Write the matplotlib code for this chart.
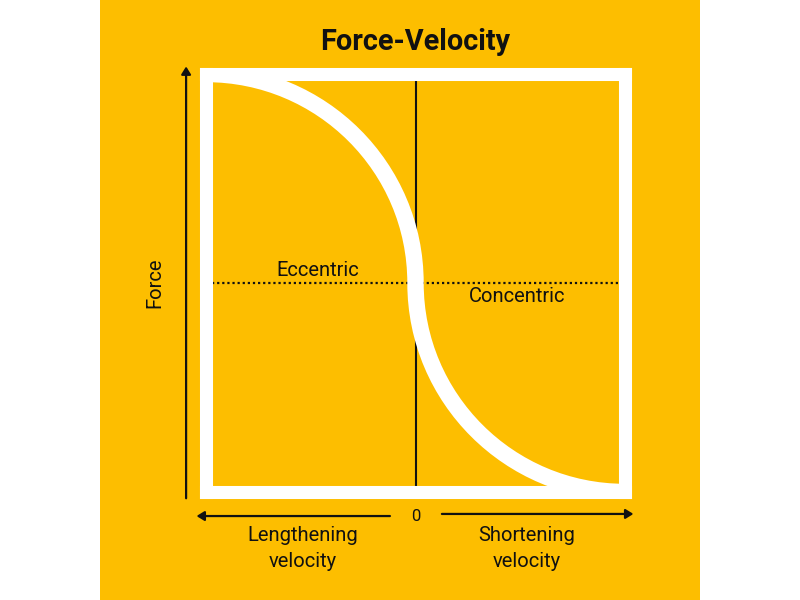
import numpy as np
import matplotlib.pyplot as plt
from matplotlib.path import Path
from matplotlib.patches import PathPatch, Rectangle

plt.rcParams['font.family'] = ['Roboto', 'DejaVu Sans']

# Curva fuerza-velocidad (dos cuartos de curva, puntos de control Bezier)
# velocidad: -1 (alargamiento) .. 1 (acortamiento); fuerza: 0 .. 2 (1 = isometrica)
curva_x = [-1.0, -0.448, 0.0, 0.0, 0.0, 0.448, 1.0]
curva_y = [2.0, 2.0, 1.552, 1.0, 0.448, 0.0, 0.0]
codigos = [Path.MOVETO, Path.CURVE4, Path.CURVE4, Path.CURVE4,
           Path.CURVE4, Path.CURVE4, Path.CURVE4]

titulo = "Force-Velocity"
etiqueta_y = "Force"
etiqueta_exc = "Eccentric"
etiqueta_con = "Concentric"
etiqueta_izq = "Lengthening\nvelocity"
etiqueta_der = "Shortening\nvelocity"
cero = "0"

amarillo = "#FDBE00"
negro = "#111111"

fig = plt.figure(figsize=(8, 6), dpi=100)
fig.patch.set_facecolor("white")
fondo = Rectangle((0.125, 0), 0.75, 1, transform=fig.transFigure,
                  facecolor=amarillo, edgecolor="none", zorder=-10)
fig.add_artist(fondo)

ax = fig.add_axes([0.2575, 0.18, 0.52375, 0.6967])
ax.set_zorder(5)
ax.set_facecolor("none")
ax.set_xlim(-1, 1)
ax.set_ylim(0, 2)
ax.set_xticks([])
ax.set_yticks([])
for s in ax.spines.values():
    s.set_color("white")
    s.set_linewidth(9.4)
    s.set_zorder(5)

# lineas de referencia
ax.axvline(0, color=negro, lw=1.5, zorder=1)
ax.plot([-0.97, 0.97], [1, 1], color=negro, lw=1.6, linestyle=(0, (1, 1.3)), zorder=1)

# curva
camino = Path(np.column_stack([curva_x, curva_y]), codigos)
ax.add_patch(PathPatch(camino, facecolor="none", edgecolor="white", lw=11.8,
                       capstyle="butt", zorder=4))

# textos dentro
ax.text(-0.465, 1.06, etiqueta_exc, ha="center", va="center", fontsize=14.5, color=negro)
ax.text(0.485, 0.935, etiqueta_con, ha="center", va="center", fontsize=14.5, color=negro)

# flechas de ejes
flecha = dict(arrowstyle="-|>,head_length=0.45,head_width=0.28", color=negro,
              lw=1.6, mutation_scale=10, shrinkA=0, shrinkB=0)
ax.annotate("", xy=(-1.095, 2.036), xytext=(-1.095, -0.03), arrowprops=flecha,
            annotation_clip=False)
ax.annotate("", xy=(-1.045, -0.115), xytext=(-0.122, -0.115), arrowprops=flecha,
            annotation_clip=False)
ax.annotate("", xy=(1.04, -0.105), xytext=(0.126, -0.105), arrowprops=flecha,
            annotation_clip=False)

ax.text(0, -0.115, cero, ha="center", va="center", fontsize=12, color=negro, clip_on=False)
ax.text(-0.537, -0.27, etiqueta_izq, ha="center", va="center", fontsize=14.5,
        color=negro, linespacing=1.45, clip_on=False)
ax.text(0.532, -0.27, etiqueta_der, ha="center", va="center", fontsize=14.5,
        color=negro, linespacing=1.45, clip_on=False)
ax.text(-1.243, 1.0, etiqueta_y, ha="center", va="center", fontsize=14.5, color=negro,
        rotation=90, clip_on=False)
ax.text(0, 2.153, titulo, ha="center", va="center", fontsize=20.8, fontweight="bold",
        color=negro, clip_on=False)

fig.savefig("out.png", dpi=100, facecolor=fig.get_facecolor())
